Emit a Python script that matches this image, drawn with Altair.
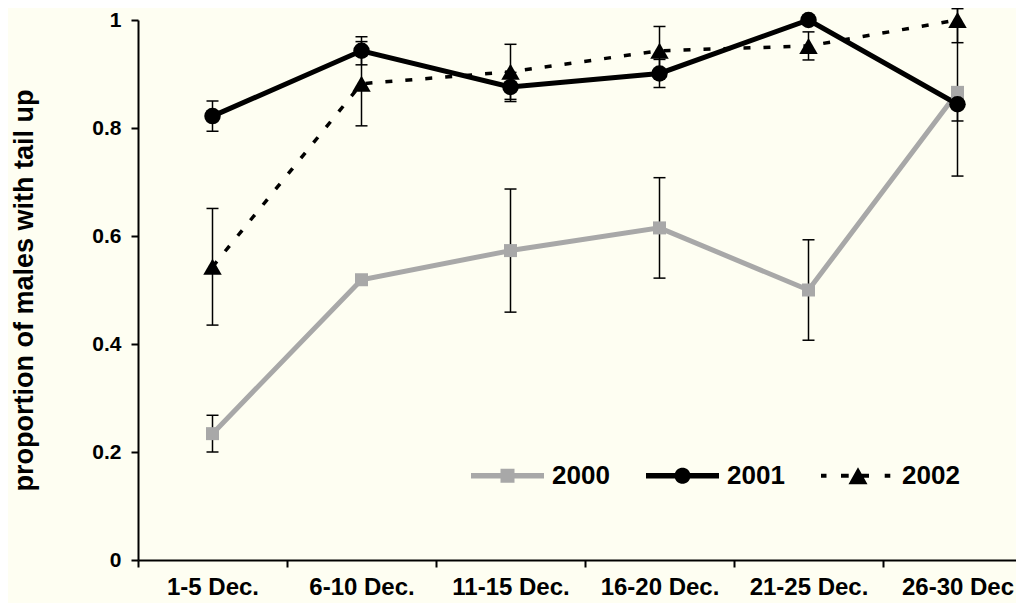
import math
import altair as alt
import pandas as pd

categories = ["1-5 Dec.", "6-10 Dec.", "11-15 Dec.", "16-20 Dec.", "21-25 Dec.", "26-30 Dec"]
years = ["2000", "2001", "2002"]
mean_2000 = [0.234, 0.519, 0.573, 0.615, 0.500, 0.866]
err_2000 = [0.034, 0.0, 0.114, 0.093, 0.093, 0.155]
mean_2001 = [0.822, 0.943, 0.876, 0.901, 1.000, 0.844]
err_2001 = [0.028, 0.026, 0.027, 0.026, 0.0, 0.031]
mean_2002 = [0.543, 0.882, 0.904, 0.943, 0.952, 1.000]
err_2002 = [0.108, 0.078, 0.051, 0.045, 0.026, 0.042]
y_ticks = [0, 0.2, 0.4, 0.6, 0.8, 1.0]
y_title = "proportion of males with tail up"

GRAY = "#A8A8A8"
BLACK = "#000000"
BG = "#FEFEF2"
FONT = "Liberation Sans"

rows = []
for yr, means, errs in zip(years, [mean_2000, mean_2001, mean_2002], [err_2000, err_2001, err_2002]):
    for c, m, e in zip(categories, means, errs):
        rows.append({"year": yr, "cat": c, "mean": m, "err": e, "lo": m - e, "hi": m + e})
df = pd.DataFrame(rows)

BAND = 149
x_scale = alt.Scale(domain=categories, range=[0, BAND * len(categories)], paddingInner=0, paddingOuter=0)
x_axis = alt.Axis(title=None, labelAngle=0, labelFont=FONT, labelFontSize=24, labelFontWeight="bold",
                  labelColor=BLACK, labelPadding=8, labelLimit=300, labelOverlap=False,
                  tickBand="extent", tickSize=7, tickWidth=2, tickColor=BLACK,
                  domainColor=BLACK, domainWidth=2, grid=False)
y_scale = alt.Scale(domain=[0, 1])
y_axis = alt.Axis(values=y_ticks, format=".1~f", title=y_title, titleFont=FONT, titleFontSize=27,
                  titleFontWeight="bold", titleColor=BLACK, titlePadding=53,
                  labelFont=FONT, labelFontSize=21, labelFontWeight="bold", labelColor=BLACK,
                  labelPadding=10, tickSize=7, tickWidth=2, tickColor=BLACK,
                  domainColor=BLACK, domainWidth=2, grid=False)


def X():
    return alt.X("cat:N", sort=categories, scale=x_scale, axis=x_axis)


def Y(field):
    return alt.Y(f"{field}:Q", scale=y_scale, axis=y_axis)


line_styles = {
    "2000": dict(color=GRAY, strokeWidth=5),
    "2001": dict(color=BLACK, strokeWidth=5),
    "2002": dict(color=BLACK, strokeWidth=3.5, strokeDash=[7, 13]),
}

layers = []
for yr in years:
    d = df[df.year == yr]
    layers.append(alt.Chart(d).mark_line(**line_styles[yr]).encode(x=X(), y=Y("mean")))

eb = df[df.err > 0]
layers.append(alt.Chart(eb).mark_rule(color=BLACK, strokeWidth=1.5).encode(x=X(), y=Y("lo"), y2="hi:Q"))
layers.append(alt.Chart(eb).mark_tick(color=BLACK, size=12, thickness=1.5, opacity=1).encode(x=X(), y=Y("lo")))
layers.append(alt.Chart(eb).mark_tick(color=BLACK, size=12, thickness=1.5, opacity=1).encode(x=X(), y=Y("hi")))

layers.append(alt.Chart(df[df.year == "2000"]).mark_square(color=GRAY, size=169, opacity=1).encode(x=X(), y=Y("mean")))
layers.append(alt.Chart(df[df.year == "2001"]).mark_circle(color=BLACK, size=272, opacity=1).encode(x=X(), y=Y("mean")))
layers.append(alt.Chart(df[df.year == "2002"]).mark_point(shape="triangle-up", filled=True, color=BLACK, size=340, opacity=1).encode(x=X(), y=Y("mean")))

# legend symbols: line + marker drawn as one custom path (unit = half symbol width)
U = 36.5


def rect(x0, x1, y0, y1):
    return f"M{x0/U:.4f},{y0/U:.4f}H{x1/U:.4f}V{y1/U:.4f}H{x0/U:.4f}Z"


def poly(pts):
    return "M" + "L".join(f"{x/U:.4f},{y/U:.4f}" for x, y in pts) + "Z"


circle_pts = [(8 * math.cos(2 * math.pi * k / 36), 8 * math.sin(2 * math.pi * k / 36)) for k in range(36)]
path_2000 = rect(-36.5, 36.5, -2.75, 2.75) + rect(-7, 7, -7, 7)
path_2001 = rect(-36.5, 36.5, -2.75, 2.75) + poly(circle_pts)
path_2002 = "".join(rect(a, b, -2, 2) for a, b in [(-36.5, -31), (-16.5, -8.8), (2.5, 11.5), (27.2, 32.8)]) \
    + poly([(0.5, -8.5), (10, 8.5), (-9, 8.5)])

leg = alt.Legend(title=None, orient="none", legendX=333, legendY=419, direction="horizontal",
                 labelFont=FONT, labelFontSize=26, labelFontWeight="bold", labelColor=BLACK,
                 symbolSize=U * U * 4, symbolStrokeWidth=0, symbolOpacity=1, labelOffset=8,
                 columnPadding=36, padding=0)
layers.append(
    alt.Chart(df).transform_filter("false").mark_point(filled=True, opacity=1, strokeWidth=0, size=U * U * 4).encode(
        shape=alt.Shape("year:N", scale=alt.Scale(domain=years, range=[path_2000, path_2001, path_2002]), legend=leg),
        fill=alt.Fill("year:N", scale=alt.Scale(domain=years, range=[GRAY, BLACK, BLACK]), legend=leg),
    )
)

chart = alt.layer(*layers).properties(
    width=878, height=540,
    autosize=alt.AutoSizeParams(type="none"),
    padding={"left": 130, "top": 12, "right": 0, "bottom": 45},
    background=BG,
).configure_view(stroke=None)

chart.save("out.html", embed_options={"renderer": "svg", "actions": False})
